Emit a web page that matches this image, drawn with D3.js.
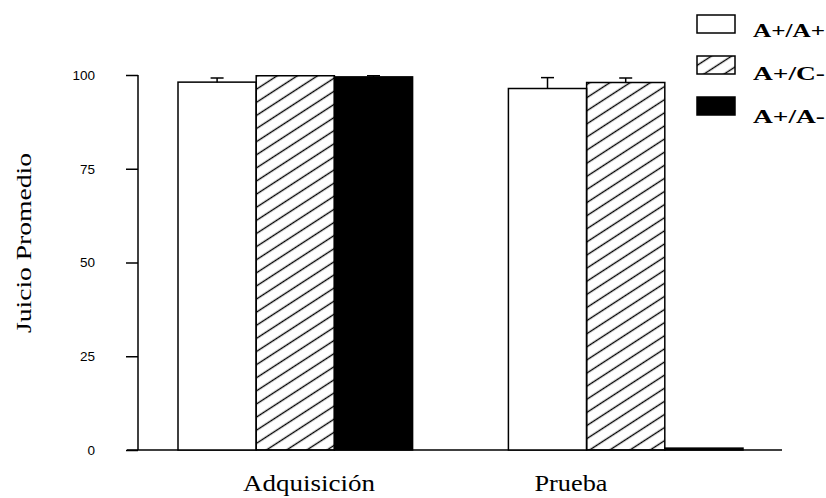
<!DOCTYPE html>
<html lang="es">
<head>
  <meta charset="utf-8">
  <title>Juicio Promedio</title>
  <style>
    body { margin: 0; background: #fff; }
    .tick text { font-family: "Liberation Sans", Arial, sans-serif; font-size: 13.5px; }
  </style>
</head>
<body>
  <script src="https://d3js.org/d3.v7.min.js"></script>
  <svg></svg>
  <script>

// data
var groups = ['Adquisición', 'Prueba'];
var series = ['A+/A+', 'A+/C-', 'A+/A-'];
var means = {
  'A+/A+': [98.1, 96.4],
  'A+/C-': [99.8, 98.0],
  'A+/A-': [99.5, 0.5]
};
var errors = {
  'A+/A+': [1.1, 2.9],
  'A+/C-': [0, 1.2],
  'A+/A-': [0.3, 0]
};
var yTicks = [0, 25, 50, 75, 100];

var width = 826, height = 498;

var svg = d3.select('svg')
            .attr('width', width)
            .attr('height', height);

// hatch for the middle series
var defs = svg.append('defs');
defs.append('pattern')
    .attr('id', 'hatch')
    .attr('patternUnits', 'userSpaceOnUse')
    .attr('width', 11).attr('height', 11)
    .attr('patternTransform', 'rotate(-33)')
  .append('line')
    .attr('x1', 0).attr('x2', 11)
    .attr('y1', 5.5).attr('y2', 5.5)
    .attr('stroke', 'black')
    .attr('stroke-width', 1.4);

var fills = { 'A+/A+': 'white', 'A+/C-': 'url(#hatch)', 'A+/A-': 'black' };

// scales
var x0 = d3.scaleBand().domain(groups)
           .range([178, 743])
           .paddingInner(0.29)
           .paddingOuter(0);
var x1 = d3.scaleBand().domain(series)
           .range([0, x0.bandwidth()]);
var y = d3.scaleLinear().domain([0, 100]).range([450, 75]);

// y axis
var yAxis = svg.append('g')
   .attr('transform', 'translate(138,0)')
   .call(d3.axisLeft(y).tickValues(yTicks).tickSize(12).tickPadding(31));
yAxis.select('.domain').attr('stroke-width', 1.5).attr('d', 'M0,' + y(100) + 'V' + y(0));
yAxis.selectAll('.tick line').attr('stroke-width', 1.5);

// baseline
svg.append('line')
   .attr('x1', 127).attr('x2', 782)
   .attr('y1', y(0)).attr('y2', y(0))
   .attr('stroke', 'black')
   .attr('stroke-width', 1.5);

// bars
var rows = [];
groups.forEach(function(g, gi) {
  series.forEach(function(s) {
    rows.push({ group: g, key: s, value: means[s][gi], err: errors[s][gi] });
  });
});

svg.append('g').selectAll('rect')
   .data(rows)
   .enter()
   .append('rect')
   .attr('x', function(d) { return x0(d.group) + x1(d.key); })
   .attr('y', function(d) { return y(d.value); })
   .attr('width', x1.bandwidth())
   .attr('height', function(d) { return y(0) - y(d.value); })
   .attr('fill', function(d) { return fills[d.key]; })
   .attr('stroke', 'black')
   .attr('stroke-width', 1.5);

// error bars (upper half only)
var eb = svg.append('g').selectAll('g')
   .data(rows.filter(function(d) { return d.err > 0; }))
   .enter().append('g')
   .attr('stroke', 'black')
   .attr('stroke-width', 1.5);
eb.append('line')
   .attr('x1', function(d) { return x0(d.group) + x1(d.key) + x1.bandwidth() / 2; })
   .attr('x2', function(d) { return x0(d.group) + x1(d.key) + x1.bandwidth() / 2; })
   .attr('y1', function(d) { return y(d.value); })
   .attr('y2', function(d) { return y(d.value + d.err); });
eb.append('line')
   .attr('x1', function(d) { return x0(d.group) + x1(d.key) + x1.bandwidth() / 2 - 6.5; })
   .attr('x2', function(d) { return x0(d.group) + x1(d.key) + x1.bandwidth() / 2 + 6.5; })
   .attr('y1', function(d) { return y(d.value + d.err); })
   .attr('y2', function(d) { return y(d.value + d.err); });

// category labels (slightly stretched, like the original)
var labelX = { 'Adquisición': 309, 'Prueba': 571 };
var labelLen = { 'Adquisición': 132, 'Prueba': 73 };
svg.append('g').selectAll('text')
   .data(groups)
   .enter().append('text')
   .attr('x', function(d) { return labelX[d] - labelLen[d] / 2; })
   .attr('y', 491)
   .attr('textLength', function(d) { return labelLen[d]; })
   .attr('lengthAdjust', 'spacingAndGlyphs')
   .attr('font-family', '"Liberation Serif", "Times New Roman", serif')
   .attr('font-size', '24px')
   .text(function(d) { return d; });

// y axis title
svg.append('text')
   .attr('transform', 'translate(31,243) rotate(-90)')
   .attr('text-anchor', 'middle')
   .attr('textLength', 180)
   .attr('lengthAdjust', 'spacingAndGlyphs')
   .attr('font-family', '"Liberation Serif", "Times New Roman", serif')
   .attr('font-size', '20px')
   .text('Juicio  Promedio');

// legend
var legend = svg.append('g').selectAll('g')
   .data(series)
   .enter().append('g');
legend.append('rect')
   .attr('x', 697)
   .attr('y', function(d, i) { return 15 + i * 41; })
   .attr('width', 38).attr('height', 18)
   .attr('fill', function(d) { return fills[d]; })
   .attr('stroke', 'black')
   .attr('stroke-width', 1.5);
legend.append('text')
   .attr('x', 753)
   .attr('y', function(d, i) { return 37 + i * 43; })
   .attr('textLength', 72)
   .attr('lengthAdjust', 'spacingAndGlyphs')
   .attr('font-family', '"Liberation Serif", "Times New Roman", serif')
   .attr('font-weight', 'bold')
   .attr('font-size', '19px')
   .text(function(d) { return d; });

  </script>
</body>
</html>
